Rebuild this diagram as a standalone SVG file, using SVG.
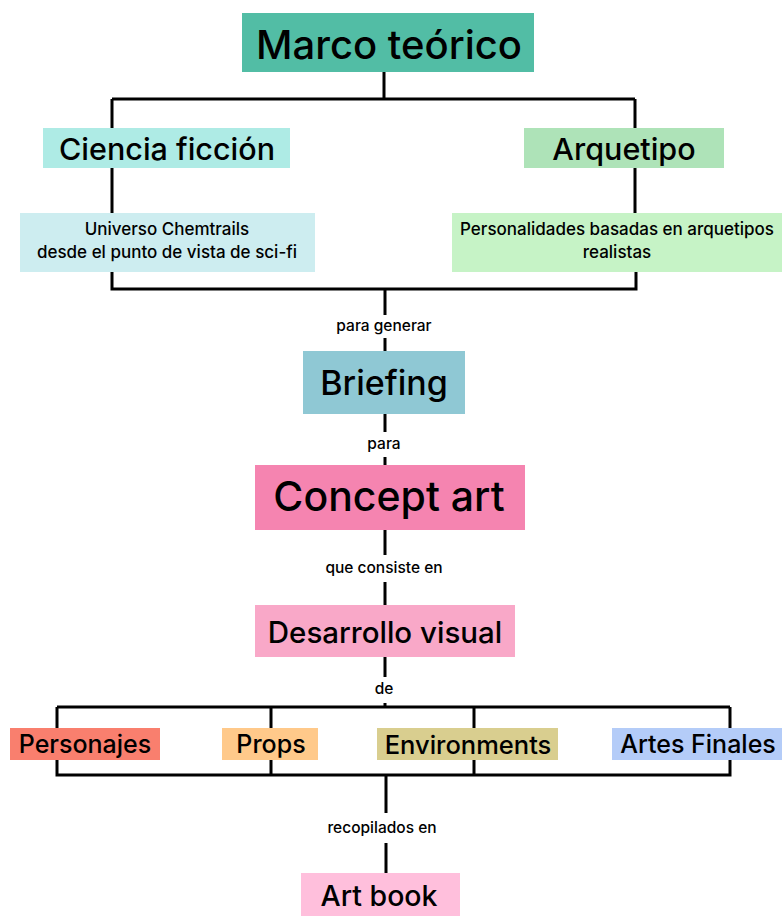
<svg xmlns="http://www.w3.org/2000/svg" width="782" height="916" viewBox="0 0 782 916">
<style>
text{font-family:Inter,"Noto Sans",sans-serif;fill:#000;text-anchor:middle;dominant-baseline:central;font-weight:500}
.c{stroke:#000;stroke-width:3;fill:none}
.l{font-size:15.5px}
</style>
<rect width="782" height="916" fill="#fff"/>
<g id="connectors">
<path class="c" d="M384 72V99M112 99H635M112 99V128M635 99V128M112 168V213M635 168V213M112 272V289H636V272M385 289V315M385 338V351M385 414V432M385 457V466M385 530V555M385 582V605M385 657V677M385 703V707M57 707H730M57 707V775H730V707M271 707V775M474 707V775M386 775V813M386 843V873"/>
<text class="l" x="384" y="325">para generar</text>
<text class="l" x="384" y="443">para</text>
<text class="l" x="384" y="567">que consiste en</text>
<text class="l" x="384" y="688">de</text>
<text class="l" x="382" y="827">recopilados en</text>
</g>
<g id="marco"><rect x="242" y="13" width="292" height="59" fill="#52BDA5"/><text x="389" y="44" style="font-size:40px">Marco teórico</text></g>
<g id="ciencia"><rect x="43" y="128" width="247" height="40" fill="#AEEBE5"/><text x="167" y="148" style="font-size:30.5px">Ciencia ficción</text></g>
<g id="arquetipo"><rect x="524" y="128" width="200" height="40" fill="#AEE3B8"/><text x="624" y="148" style="font-size:30.5px">Arquetipo</text></g>
<g id="universo"><rect x="20" y="213" width="295" height="59" fill="#CDEDF0"/><text x="167" y="229" style="font-size:17px">Universo Chemtrails</text><text x="167" y="252" style="font-size:17px">desde el punto de vista de sci-fi</text></g>
<g id="personalidades"><rect x="452" y="213" width="330" height="59" fill="#C6F3C6"/><text x="617" y="229" style="font-size:17px">Personalidades basadas en arquetipos</text><text x="617" y="252" style="font-size:17px">realistas</text></g>
<g id="briefing"><rect x="303" y="351" width="162" height="63" fill="#8FC8D4"/><text x="384" y="382" style="font-size:34px">Briefing</text></g>
<g id="concept"><rect x="255" y="465" width="270" height="65" fill="#F584B0"/><text x="389" y="496" style="font-size:41px">Concept art</text></g>
<g id="desarrollo"><rect x="255" y="605" width="260" height="52" fill="#F9A8C8"/><text x="385" y="632" style="font-size:29.5px">Desarrollo visual</text></g>
<g id="personajes"><rect x="10" y="728" width="150" height="32" fill="#F97F6E"/><text x="85" y="744" style="font-size:25px">Personajes</text></g>
<g id="props"><rect x="222" y="728" width="96" height="32" fill="#FFC98A"/><text x="271" y="744" style="font-size:25px">Props</text></g>
<g id="environments"><rect x="377" y="728" width="181" height="32" fill="#D9CE8F"/><text x="468" y="744" style="font-size:25.5px">Environments</text></g>
<g id="artes"><rect x="612" y="728" width="170" height="32" fill="#B4CCF8"/><text x="698" y="744" style="font-size:25px">Artes Finales</text></g>
<g id="artbook"><rect x="301" y="873" width="159" height="43" fill="#FFBFDC"/><text x="379" y="895" style="font-size:28.5px">Art book</text></g>
</svg>
